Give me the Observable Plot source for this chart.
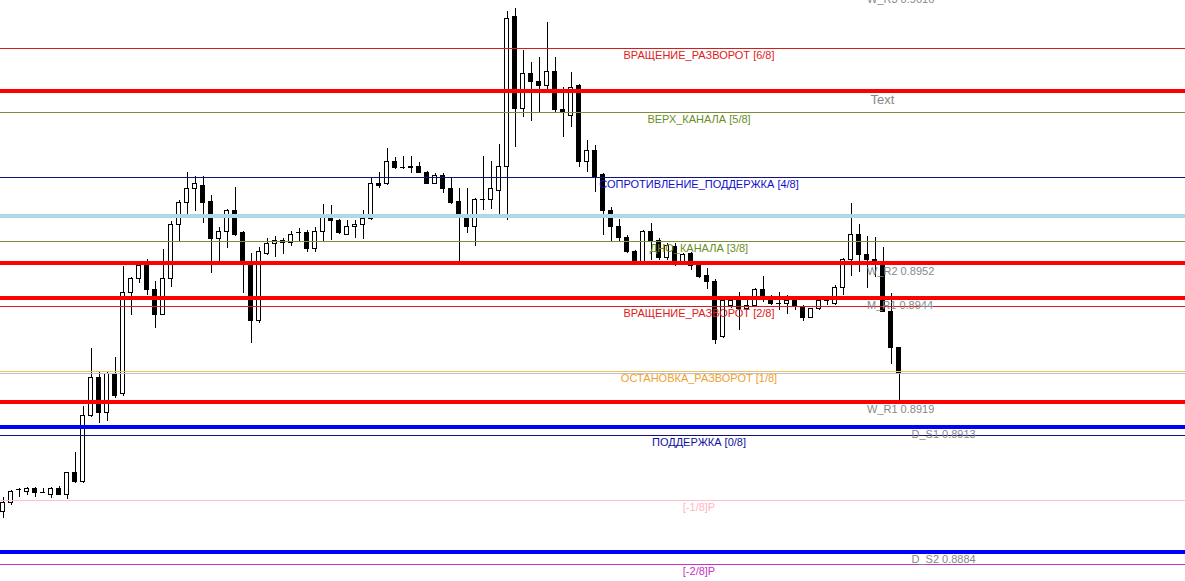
<!DOCTYPE html>
<html>
<head>
<meta charset="utf-8">
<script src="https://cdn.jsdelivr.net/npm/d3@7"></script>
<script src="https://cdn.jsdelivr.net/npm/@observablehq/plot@0.6"></script>
<style>
  html, body { margin: 0; padding: 0; background: #fff; }
  #chart { width: 1185px; height: 581px; overflow: hidden; }
</style>
</head>
<body>
<div id="chart"></div>
<script>
// ---- Candle data (bar index = position in arrays) ----
const open = [.88930,.88953,.88982,.88977,.88986,.88975,.88972,.88986,.88972,.89024,
.89001,.89157,.89247,.89166,.89258,.89209,.89448,.89483,.89512,.89457,
.89398,.89483,.89611,.89661,.89696,.89703,.89665,.89576,.89594,.89644,
.89590,.89514,.89382,.89542,.89566,.89573,.89568,.89592,.89592,.89554,
.89594,.89623,.89620,.89587,.89604,.89611,.89623,.89708,.89706,.89758,
.89744,.89744,.89748,.89732,.89708,.89725,.89694,.89665,.89623,.89604,
.89668,.89668,.89691,.89746,.90103,.89885,.89966,.89947,.89938,.89973,
.89883,.89867,.89938,.89760,.89786,.89727,.89642,.89606,.89580,.89545,
.89519,.89594,.89571,.89531,.89557,.89521,.89542,.89512,.89490,.89476,
.89344,.89419,.89431,.89412,.89419,.89457,.89434,.89422,.89424,.89429,
.89415,.89391,.89410,.89429,.89424,.89460,.89526,.89587,.89538,.89526,
.89521,.89405,.89320];
const high = [.88965,.88982,.88986,.88989,.88989,.88986,.88989,.88991,.89024,.89072,
.89180,.89318,.89261,.89260,.89296,.89512,.89486,.89523,.89528,.89476,
.89552,.89618,.89668,.89734,.89725,.89725,.89680,.89604,.89647,.89699,
.89594,.89542,.89557,.89578,.89583,.89578,.89594,.89602,.89597,.89604,
.89658,.89656,.89622,.89620,.89620,.89644,.89720,.89734,.89791,.89770,
.89772,.89772,.89758,.89736,.89732,.89732,.89720,.89696,.89696,.89673,
.89772,.89760,.89800,.90115,.90122,.90023,.89994,.90006,.90089,.90006,
.89935,.89971,.89942,.89810,.89798,.89732,.89651,.89623,.89585,.89549,
.89597,.89613,.89578,.89566,.89566,.89542,.89545,.89519,.89507,.89481,
.89433,.89438,.89450,.89431,.89460,.89488,.89443,.89450,.89443,.89438,
.89419,.89412,.89436,.89436,.89467,.89531,.89661,.89611,.89583,.89580,
.89557,.89448,.89320];
const low = [.88915,.88946,.88965,.88970,.88965,.88974,.88963,.88970,.88960,.88998,
.88998,.89154,.89140,.89145,.89199,.89205,.89396,.89471,.89443,.89365,
.89396,.89462,.89568,.89632,.89642,.89613,.89495,.89521,.89554,.89583,
.89448,.89329,.89377,.89538,.89533,.89540,.89559,.89568,.89545,.89545,
.89568,.89573,.89587,.89585,.89578,.89576,.89621,.89696,.89704,.89741,
.89742,.89732,.89732,.89707,.89706,.89684,.89658,.89521,.89590,.89559,
.89644,.89647,.89632,.89620,.89793,.89864,.89855,.89874,.89928,.89876,
.89817,.89841,.89746,.89734,.89687,.89585,.89568,.89568,.89542,.89516,
.89516,.89526,.89526,.89526,.89512,.89516,.89502,.89483,.89457,.89327,
.89341,.89412,.89360,.89408,.89415,.89426,.89419,.89408,.89398,.89408,
.89382,.89389,.89408,.89419,.89419,.89443,.89488,.89497,.89460,.89486,
.89403,.89280,.89195];
const close = [.88953,.88977,.88983,.88986,.88975,.88976,.88986,.88972,.89022,.89001,
.89157,.89247,.89164,.89258,.89206,.89450,.89481,.89512,.89457,.89398,
.89483,.89611,.89663,.89696,.89706,.89663,.89576,.89594,.89642,.89587,
.89521,.89382,.89545,.89566,.89573,.89568,.89587,.89590,.89554,.89594,
.89628,.89620,.89590,.89604,.89611,.89623,.89706,.89703,.89758,.89744,
.89745,.89748,.89734,.89708,.89725,.89694,.89661,.89628,.89604,.89668,
.89669,.89694,.89746,.90098,.89885,.89966,.89947,.89938,.89973,.89881,
.89874,.89935,.89760,.89784,.89720,.89644,.89604,.89578,.89545,.89519,
.89594,.89571,.89531,.89559,.89521,.89538,.89512,.89486,.89476,.89337,
.89431,.89431,.89412,.89419,.89457,.89443,.89422,.89423,.89429,.89417,
.89391,.89410,.89431,.89430,.89460,.89526,.89587,.89540,.89528,.89521,
.89405,.89318,.89258];

// ---- Murrey Math levels ----
const murreyLabels = ["[-2/8]P","[-1/8]P","ПОДДЕРЖКА [0/8]","ОСТАНОВКА_РАЗВОРОТ [1/8]",
  "ВРАЩЕНИЕ_РАЗВОРОТ [2/8]","ДНО_КАНАЛА [3/8]","СОПРОТИВЛЕНИЕ_ПОДДЕРЖКА [4/8]",
  "ВЕРХ_КАНАЛА [5/8]","ВРАЩЕНИЕ_РАЗВОРОТ [6/8]"];
const murreyValues = [0.88807,0.88959,0.89112,0.89264,0.89417,0.89570,0.89722,0.89875,0.90028];
const murreyLineColors = ["#c535c5","#ffc0cb","#10107f","#f2c060","#d81c1c","#7a8f3a","#10107f","#7a8f3a","#d81c1c"];
const murreyTextColors = ["#c832c8","#ffb6c1","#1010a0","#f0a030","#e02020","#6b8e23","#1010c8","#6b8e23","#e02020"];
const murreyLabelBar = 87;

// ---- Pivot levels ----
const pivotValues = [0.90162,0.89926,0.89630,0.89519,0.89438,0.89192,0.89133,0.88837];
const pivotLabels = ["W_R3 0.9016","Text","","W_R2 0.8952","M_R1 0.8944","W_R1 0.8919","D_S1 0.8913","D_S2 0.8884"];
const pivotColors = ["#ff0000","#ff0000","#add8e6","#ff0000","#ff0000","#ff0000","#0000ff","#0000ff"];
const pivotLabelBar = [108,108.45,108,108,108,108,113.56,113.56];
const pivotLabelSize = [11,13,11,11,11,11,11,11];

// ---- Bid line (last close) ----
const bid = close[close.length - 1];

const candles = d3.range(open.length).map(i => ({i, o: open[i], h: high[i], l: low[i], c: close[i]}));
const bulls = candles.filter(d => d.c >= d.o);
const bears = candles.filter(d => d.c < d.o);

const font = "'Liberation Sans', Arial, sans-serif";
const marks = [];

marks.push(Plot.ruleX(candles, {x: "i", y1: "l", y2: "h", stroke: "black", strokeWidth: 1, shapeRendering: "crispEdges"}));
marks.push(Plot.rect(bulls, {x1: d => d.i - 0.25, x2: d => d.i + 0.25, y1: "o", y2: "c", fill: "white", stroke: "black", strokeWidth: 1, shapeRendering: "crispEdges"}));
marks.push(Plot.rect(bears, {x1: d => d.i - 0.25, x2: d => d.i + 0.25, y1: "o", y2: "c", fill: "black", stroke: "black", strokeWidth: 1, shapeRendering: "crispEdges"}));

murreyValues.forEach((v, k) => {
  marks.push(Plot.ruleY([v], {stroke: murreyLineColors[k], strokeWidth: 1, shapeRendering: "crispEdges"}));
});
marks.push(Plot.ruleY([bid], {stroke: "#c0c0c0", strokeWidth: 1, shapeRendering: "crispEdges"}));
pivotValues.forEach((v, k) => {
  marks.push(Plot.ruleY([v], {stroke: pivotColors[k], strokeWidth: 4, shapeRendering: "crispEdges"}));
});

murreyValues.forEach((v, k) => {
  marks.push(Plot.text([murreyLabels[k]], {x: () => murreyLabelBar, y: () => v, text: d => d,
    fill: murreyTextColors[k], textAnchor: "middle", dy: 7, fontSize: 11, fontFamily: font}));
});
pivotValues.forEach((v, k) => {
  if (!pivotLabels[k]) return;
  marks.push(Plot.text([pivotLabels[k]], {x: () => pivotLabelBar[k], y: () => v, text: d => d,
    fill: "#888888", textAnchor: "start", dy: 8, fontSize: pivotLabelSize[k], fontFamily: font}));
});

const chart = Plot.plot({
  width: 1185,
  height: 581,
  margin: 0,
  x: {type: "linear", domain: [-0.3125, 147.8125], axis: null},
  y: {type: "linear", domain: [0.887664, 0.90141], axis: null},
  style: {background: "white", fontFamily: font},
  marks
});
document.getElementById("chart").appendChild(chart);
</script>
</body>
</html>
